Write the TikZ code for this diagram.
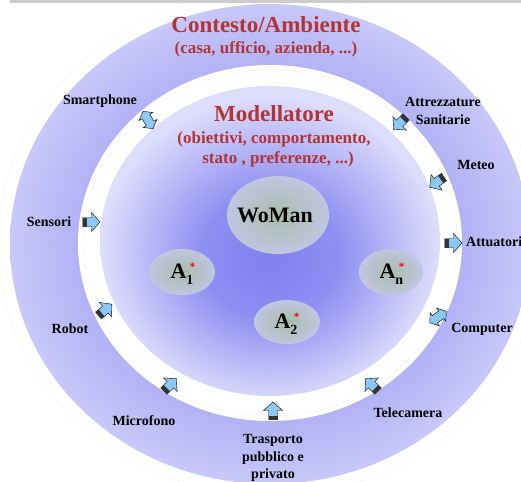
\documentclass[tikz,border=0pt]{standalone}
\usepackage{fontspec}
\setmainfont{Liberation Serif}
\usetikzlibrary{shapes.geometric}

\definecolor{ctxred}{RGB}{178,52,52}
\definecolor{arrowblue}{RGB}{140,200,245}
\definecolor{ringlight}{RGB}{200,200,250}
\definecolor{ringdark}{RGB}{176,176,245}
\definecolor{coreblue}{RGB}{128,128,240}
\definecolor{coreedge}{RGB}{222,222,252}
\definecolor{agentgreen}{RGB}{168,188,170}
\definecolor{agentedge}{RGB}{192,198,224}

\pgfdeclareradialshading{ctxshade}{\pgfpoint{0bp}{0bp}}{color(0bp)=(ringdark); color(18bp)=(ringdark); color(25bp)=(ringlight); color(50bp)=(ringlight)}
\pgfdeclareradialshading{coreshade}{\pgfpoint{0bp}{-3bp}}{color(0bp)=(coreblue); color(10bp)=(coreblue!85!coreedge); color(25bp)=(coreedge); color(50bp)=(coreedge)}

% A con pedice e asterisco rosso
\newcommand{\agentname}[1]{A\rlap{\raisebox{-6pt}{\fontsize{14}{14}\selectfont #1}}\raisebox{8pt}{\hspace{3.5pt}\fontsize{11}{11}\selectfont\textcolor{red}{*}}}

\tikzset{
  title/.style={anchor=base, text=ctxred, font=\fontsize{23}{27}\selectfont\bfseries},
  subtitle/.style={anchor=base, text=ctxred, font=\fontsize{17}{20}\selectfont\bfseries},
  source/.style={anchor=base, inner sep=0pt, font=\fontsize{14}{17.5}\selectfont\bfseries},
  agent/.style={ellipse, inner color=agentgreen, outer color=agentedge, inner sep=0pt},
  agentlabel/.style={inner sep=0pt, font=\fontsize{22}{26}\selectfont\bfseries},
  pics/inarrow/.style={code={
    \draw[fill=arrowblue, line width=0.4pt] (-8.5,-4.5) -- (0.5,-4.5) -- (0.5,-9.5) -- (9,0) -- (0.5,9.5) -- (0.5,4.5) -- (-8.5,4.5) -- cycle;
    \fill[black!80] (-8.5,-4.5) rectangle (-4.5,4.5);
  }},
  pics/swaparrow/.style={code={
    \draw[fill=arrowblue, line width=0.4pt] (-10,0) -- (-4,-8) -- (-4,-4.5) -- (4,-4.5) -- (4,-8) -- (10,0) -- (4,8) -- (4,4.5) -- (-4,4.5) -- (-4,8) -- cycle;
  }}
}

\begin{document}
\begin{tikzpicture}[x=1pt,y=1pt]
		\useasboundingbox (0,0) rectangle (521,-481);
		%%%%% START %%%%%
		
		% contesto
		\draw[red!6, line width=0.6pt] (270,-244) ellipse (272 and 252);
		\shade[shading=ctxshade] (270,-244) ellipse (260 and 240);
		\fill[black!20] (10,0) rectangle (521,-3);
		
		% anello bianco
		\fill[white] (270,-243) ellipse (192 and 178);
		\draw[red!8, line width=0.4pt] (270,-243) ellipse (187 and 173);
		
		% modellatore
		\shade[shading=coreshade] (270,-241) ellipse (170 and 155);
		
		\node[title] (ctxtitle) at (266,-33) {Contesto/Ambiente};
		\node[subtitle] (ctxsub) at (266,-54) {(casa, ufficio, azienda, ...)};
		\node[title] (modtitle) at (274,-122) {Modellatore};
		\node[subtitle] (modsuba) at (274,-143) {(obiettivi, comportamento,};
		\node[subtitle] (modsubb) at (278,-164) {stato , preferenze, ...)};
		
		\node[agent, minimum width=102pt, minimum height=78pt] (woman) at (278,-215) {};
		\node[agent, minimum width=66pt, minimum height=46pt] (aone) at (182,-272) {};
		\node[agent, minimum width=66pt, minimum height=44pt] (atwo) at (287,-322) {};
		\node[agent, minimum width=64pt, minimum height=46pt] (aen) at (391,-272) {};
		
		\node[agentlabel] (womanlabel) at (275,-215) {WoMan};
		\node[agentlabel] (aonelabel) at (183,-274) {\agentname{1}};
		\node[agentlabel] (atwolabel) at (287,-324) {\agentname{2}};
		\node[agentlabel] (aenlabel) at (392,-274) {\agentname{n}};
		
		% sorgenti
		\node[source] (smartphone) at (100,-105) {Smartphone};
		\node[source, anchor=center, align=center] (attrezzature) at (443,-111) {Attrezzature\\Sanitarie};
		\node[source] (meteo) at (476,-169) {Meteo};
		\node[source, anchor=base west] (attuatori) at (466,-246) {Attuatori};
		\node[source] (computer) at (482,-332) {Computer};
		\node[source] (telecamera) at (408,-417) {Telecamera};
		\node[source, anchor=center, align=center] (trasporto) at (273,-458) {Trasporto\\pubblico e\\privato};
		\node[source] (microfono) at (144,-425) {Microfono};
		\node[source] (robot) at (70,-333) {Robot};
		\node[source] (sensori) at (49,-226) {Sensori};
		
		% frecce
		\pic[rotate=120] (smartarrow) at (148,-120) {swaparrow};
		\pic[rotate=225] (attrarrow) at (400,-123) {inarrow};
		\pic[rotate=215] (meteoarrow) at (437,-182) {inarrow};
		\pic (attuarrow) at (453,-243) {inarrow};
		\pic[rotate=35] (comparrow) at (438,-317) {swaparrow};
		\pic[rotate=135] (telearrow) at (372,-385) {inarrow};
		\pic[rotate=90] (traspoarrow) at (273,-411) {inarrow};
		\pic[rotate=45] (microarrow) at (170,-385) {inarrow};
		\pic[rotate=40] (robotarrow) at (105,-310) {inarrow};
		\pic (sensarrow) at (91,-222) {inarrow};
		
		%%%%% END %%%%%
	\end{tikzpicture}
\end{document}
